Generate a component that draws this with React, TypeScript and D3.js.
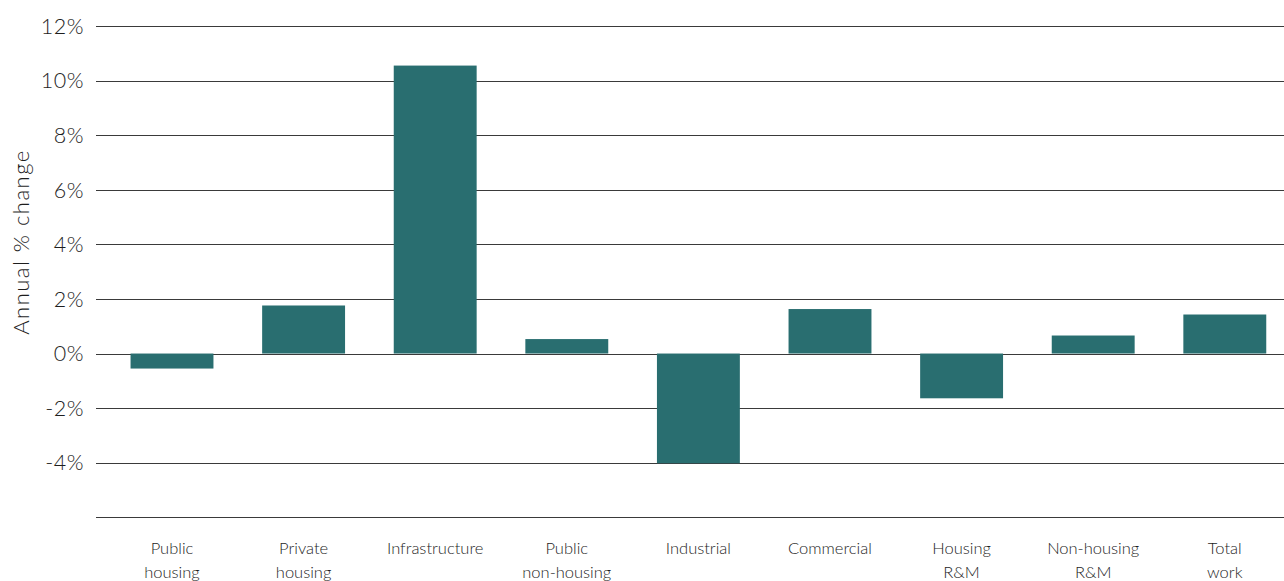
import React from "react";
import * as d3 from "d3";

const categories = [
  ["Public", "housing"],
  ["Private", "housing"],
  ["Infrastructure"],
  ["Public", "non-housing"],
  ["Industrial"],
  ["Commercial"],
  ["Housing", "R&M"],
  ["Non-housing", "R&M"],
  ["Total", "work"],
];
const values = [-0.55, 1.76, 10.55, 0.53, -4.02, 1.63, -1.64, 0.66, 1.43];
const yTicks = [-4, -2, 0, 2, 4, 6, 8, 10, 12];
const gridValues = [-6, -4, -2, 0, 2, 4, 6, 8, 10, 12];

const W = 1284;
const H = 581;

export default function App() {
  const keys = categories.map((c) => c.join(" "));
  const x = d3
    .scaleBand<string>()
    .domain(keys)
    .range([106.2, 1290.6])
    .paddingInner(0.37)
    .paddingOuter(0.185);
  const y = d3.scaleLinear().domain([-6, 12]).range([517.3, 26]);
  const font = "Lato, 'Open Sans', sans-serif";
  const crisp = (v: number) => Math.round(v) + 0.5;
  const textColor = "#1e1e1e";

  return (
    <svg
      width={W}
      height={H}
      style={{ position: "absolute", left: 0, top: 0, background: "#fff" }}
    >
      {gridValues.map((v) => (
        <line
          key={v}
          x1={96}
          x2={W}
          y1={crisp(y(v))}
          y2={crisp(y(v))}
          stroke="#3a3a3a"
          strokeWidth={1}
        />
      ))}
      {keys.map((k, i) => {
        const v = values[i];
        const y0 = y(0);
        const y1 = y(v);
        return (
          <rect
            key={k}
            x={x(k)}
            width={x.bandwidth()}
            y={Math.min(y0, y1)}
            height={Math.abs(y1 - y0)}
            fill="#296e70"
          />
        );
      })}
      {yTicks.map((t) => (
        <text
          key={t}
          x={84}
          y={y(t)}
          dy="0.36em"
          textAnchor="end"
          fontFamily={font}
          fontSize={21.5}
          fontWeight={300}
          letterSpacing={0.5}
          fill={textColor}
        >
          {t}%
        </text>
      ))}
      <text
        transform="translate(29,242) rotate(-90)"
        textAnchor="middle"
        fontFamily={font}
        fontSize={22}
        fontWeight={300}
        letterSpacing={1.5}
        fill={textColor}
      >
        Annual % change
      </text>
      {categories.map((lines, i) => (
        <text
          key={i}
          x={(x(keys[i]) as number) + x.bandwidth() / 2}
          y={554}
          textAnchor="middle"
          fontFamily={font}
          fontSize={16.5}
          fontWeight={300}
          fill={textColor}
        >
          {lines.map((l, j) => (
            <tspan key={j} x={(x(keys[i]) as number) + x.bandwidth() / 2} dy={j === 0 ? 0 : 24}>
              {l}
            </tspan>
          ))}
        </text>
      ))}
    </svg>
  );
}
